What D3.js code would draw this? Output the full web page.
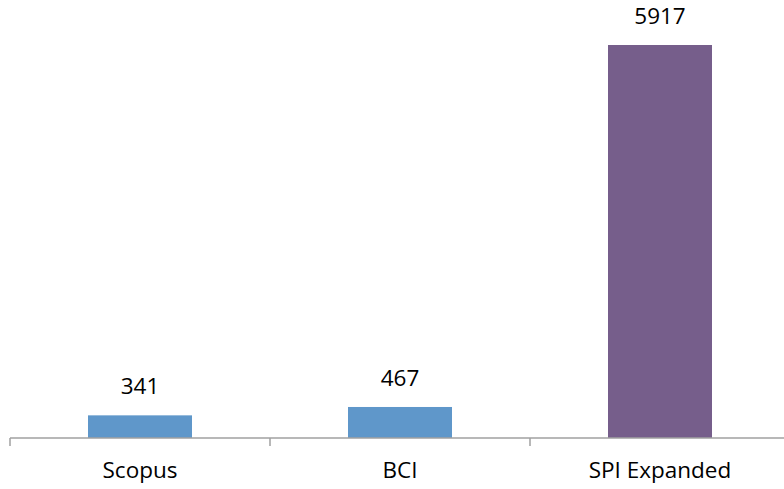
<!DOCTYPE html>
<html>
<head>
<meta charset="utf-8">
<script src="https://cdn.jsdelivr.net/npm/d3@7"></script>
<style>
html,body{margin:0;padding:0;background:#fff;}
svg{display:block;}
text{font-family:"Open Sans",sans-serif;fill:#000;}
</style>
</head>
<body>
<svg id="c" width="784" height="489"></svg>
<script>
const categories = ["Scopus", "BCI", "SPI Expanded"];
const values = [341, 467, 5917];
const barColors = ["#5f97ca", "#5f97ca", "#765e8b"];

const W = 784, H = 489;
const svg = d3.select("#c");
const baseY = 438;

const x = d3.scaleBand().domain(categories).range([10, 790]).paddingInner(0).paddingOuter(0);
const y = d3.scaleLinear().domain([0, 6000]).range([baseY, baseY - 6000 * (393 / 5917)]);

const barW = x.bandwidth() * 0.4;

svg.selectAll("rect.bar").data(values).enter().append("rect")
  .attr("class", "bar")
  .attr("x", (d, i) => x(categories[i]) + (x.bandwidth() - barW) / 2)
  .attr("y", d => y(d))
  .attr("width", barW)
  .attr("height", d => baseY - y(d))
  .attr("fill", (d, i) => barColors[i]);

svg.selectAll("text.val").data(values).enter().append("text")
  .attr("class", "val")
  .attr("x", (d, i) => x(categories[i]) + x.bandwidth() / 2)
  .attr("y", d => y(d) - 21)
  .attr("text-anchor", "middle")
  .attr("font-size", 22.5)
  .text(d => d);

// axis
const g = svg.append("g").attr("transform", `translate(0,${baseY})`);
g.append("line").attr("x1", 10).attr("x2", 790).attr("y1", 0).attr("y2", 0)
  .attr("stroke", "#a0a0a0").attr("stroke-width", 1.5);
const boundaries = [10].concat(categories.map(c => x(c) + x.bandwidth()));
g.selectAll("line.tick").data(boundaries).enter().append("line")
  .attr("class", "tick")
  .attr("x1", d => d).attr("x2", d => d).attr("y1", 0).attr("y2", 8)
  .attr("stroke", "#a0a0a0").attr("stroke-width", 1.5);
g.selectAll("text.cat").data(categories).enter().append("text")
  .attr("class", "cat")
  .attr("x", d => x(d) + x.bandwidth() / 2)
  .attr("y", 40)
  .attr("text-anchor", "middle")
  .attr("font-size", 22.5)
  .text(d => d);
</script>
</body>
</html>
